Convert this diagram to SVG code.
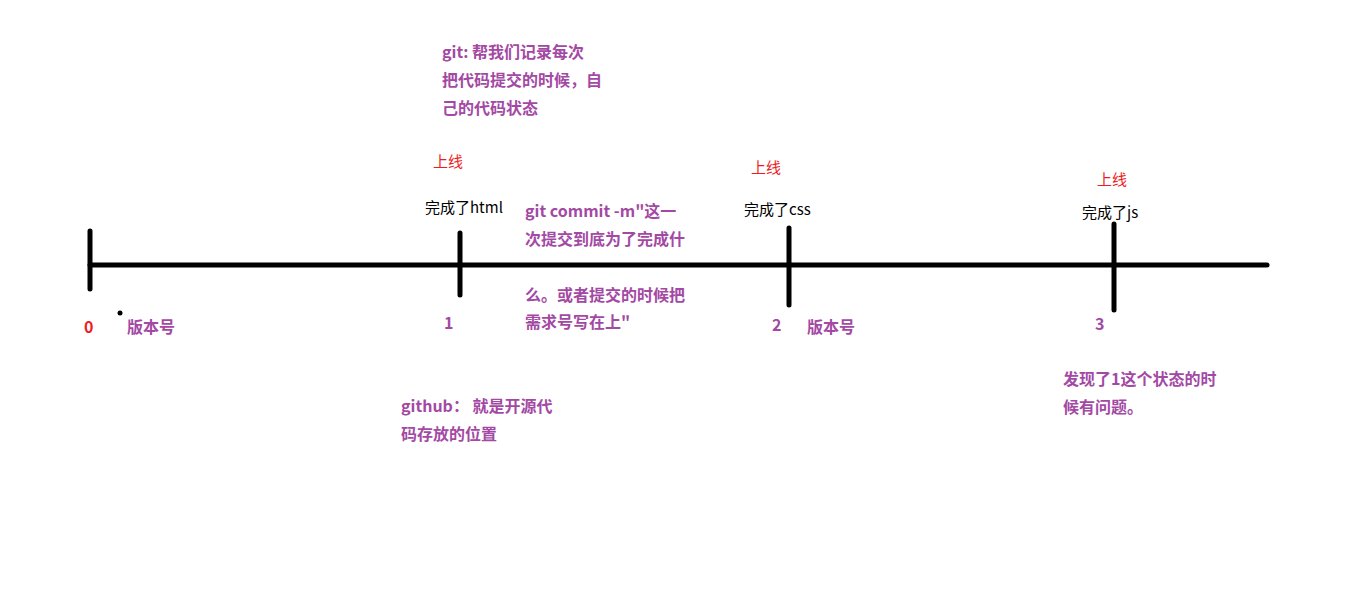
<svg xmlns="http://www.w3.org/2000/svg" width="1360" height="591" viewBox="0 0 1360 591">
<style>
.p{font-family:"Microsoft YaHei","Noto Sans CJK SC",sans-serif;font-size:16px;font-weight:bold;fill:#A349A4}
.r{font-family:"Microsoft YaHei","Noto Sans CJK SC",sans-serif;font-size:15px;fill:#ED1C24}
.b{font-family:"Microsoft YaHei","Noto Sans CJK SC",sans-serif;font-size:15px;fill:#000}
.ln{stroke:#000;stroke-width:5;stroke-linecap:round;fill:none}
</style>
<rect width="1360" height="591" fill="#fff"/>
<g id="connectors">
<line class="ln" x1="90" y1="265" x2="1267" y2="265"/>
</g>
<g id="v0">
<line class="ln" x1="90" y1="231" x2="90" y2="289"/>
<circle cx="120" cy="313" r="2.5" fill="#000"/>
<text class="p" x="84" y="333" style="fill:#ED1C24">0</text>
<text class="p" x="127" y="333">版本号</text>
</g>
<g id="v1">
<line class="ln" x1="460" y1="233" x2="460" y2="295"/>
<text class="r" x="433" y="167">上线</text>
<text class="b" x="425" y="213">完成了html</text>
<text class="p" x="444" y="329">1</text>
</g>
<g id="v2">
<line class="ln" x1="789" y1="228" x2="789" y2="305"/>
<text class="r" x="751" y="173">上线</text>
<text class="b" x="744" y="215">完成了css</text>
<text class="p" x="772" y="331">2</text>
<text class="p" x="807" y="333">版本号</text>
</g>
<g id="v3">
<line class="ln" x1="1114" y1="224" x2="1114" y2="310"/>
<text class="r" x="1097" y="185">上线</text>
<text class="b" x="1082" y="218">完成了js</text>
<text class="p" x="1095" y="330">3</text>
</g>
<g id="note-git">
<text class="p" x="442" y="58">git: 帮我们记录每次</text>
<text class="p" x="442" y="86">把代码提交的时候，自</text>
<text class="p" x="442" y="114">己的代码状态</text>
</g>
<g id="note-commit">
<text class="p" x="525" y="217">git commit -m"这一</text>
<text class="p" x="525" y="245">次提交到底为了完成什</text>
<text class="p" x="525" y="301">么。或者提交的时候把</text>
<text class="p" x="525" y="328">需求号写在上"</text>
</g>
<g id="note-github">
<text class="p" x="401" y="412">github： 就是开源代</text>
<text class="p" x="401" y="440">码存放的位置</text>
</g>
<g id="note-problem">
<text class="p" x="1063" y="385">发现了1这个状态的时</text>
<text class="p" x="1063" y="413">候有问题。</text>
</g>
</svg>
